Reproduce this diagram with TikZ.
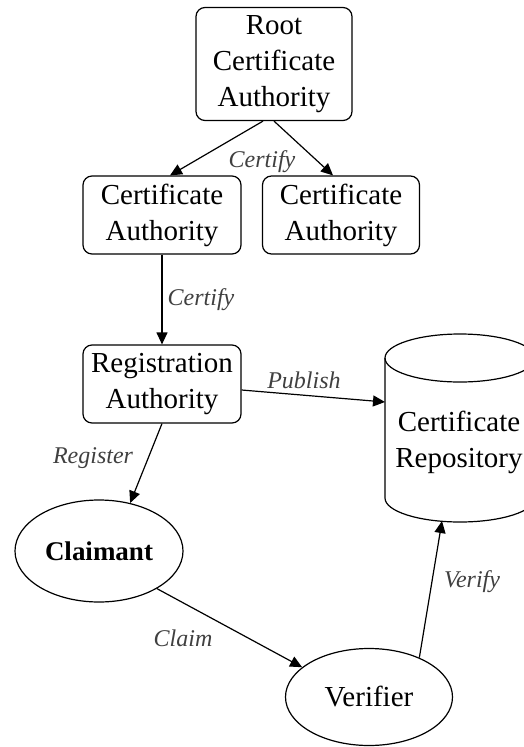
\documentclass[tikz,border=0pt]{standalone}
\usepackage{fontspec}
\setmainfont{Liberation Serif}
\usetikzlibrary{shapes.geometric,arrows.meta}

\tikzset{
  box/.style={draw, line width=1.2pt, rounded corners=9pt, align=center, inner sep=0pt,
    font=\fontsize{29}{36}\selectfont},
  oval/.style={draw, ellipse, line width=1.2pt, inner sep=0pt, font=\fontsize{29}{36}\selectfont},
  lbl/.style={font=\itshape\fontsize{24}{28}\selectfont, text=black!75},
  conn/.style={-{Triangle[length=12pt,width=11pt]}, line width=1.2pt}
}

\begin{document}
\begin{tikzpicture}[x=1pt,y=-1pt]

        \useasboundingbox (0,0) rectangle (524,747);

        % boxes
        \node[box, minimum width=156, minimum height=113] (root) at (274,64) {Root\\Certificate\\Authority};
        \node[box, minimum width=158, minimum height=78] (caleft) at (162,215) {Certificate\\Authority};
        \node[box, minimum width=157, minimum height=78] (caright) at (341,215) {Certificate\\Authority};
        \node[box, minimum width=158, minimum height=78] (ra) at (162,384) {Registration\\Authority};

        % repository
        \draw[line width=1.2pt] (460,358) ellipse [x radius=75, y radius=24];
        \draw[line width=1.2pt] (385,358) -- (385,498)
            arc[start angle=180, end angle=0, x radius=75, y radius=24] -- (535,358);
        \node[align=center, inner sep=0pt, font=\fontsize{29}{36}\selectfont] (repo) at (459,442) {Certificate\\Repository};
        \coordinate (repoleft) at (385,402);
        \coordinate (repobottom) at (442,521);

        % ellipses
        \node[oval, font=\bfseries\fontsize{27}{32}\selectfont, minimum width=168, minimum height=102] (claimant) at (99,551) {Claimant};
        \node[oval, minimum width=167, minimum height=97] (verifier) at (369,697) {Verifier};

        % connectors
        \draw[conn] ([xshift=-11pt]root.south) -- ([xshift=8pt]caleft.north);
        \draw[conn] (root.south) -- ([xshift=-8pt]caright.north);
        \node[lbl] (lcert) at (262,162) {Certify};

        \draw[conn] (caleft.south) -- (ra.north);
        \node[lbl] (lcert2) at (201,300) {Certify};

        \draw[conn] ([yshift=-6pt]ra.east) -- (repoleft);
        \node[lbl] (lpub) at (304,380) {Publish};

        \draw[conn] (ra.south) -- (claimant.57);
        \node[lbl] (lreg) at (93,458) {Register};

        \draw[conn] (claimant.-33) -- (verifier.156);
        \node[lbl] (lclaim) at (183,638) {Claim};

        \draw[conn] (verifier.38) -- (repobottom);
        \node[lbl] (lver) at (472,582) {Verify};

\end{tikzpicture}
\end{document}
